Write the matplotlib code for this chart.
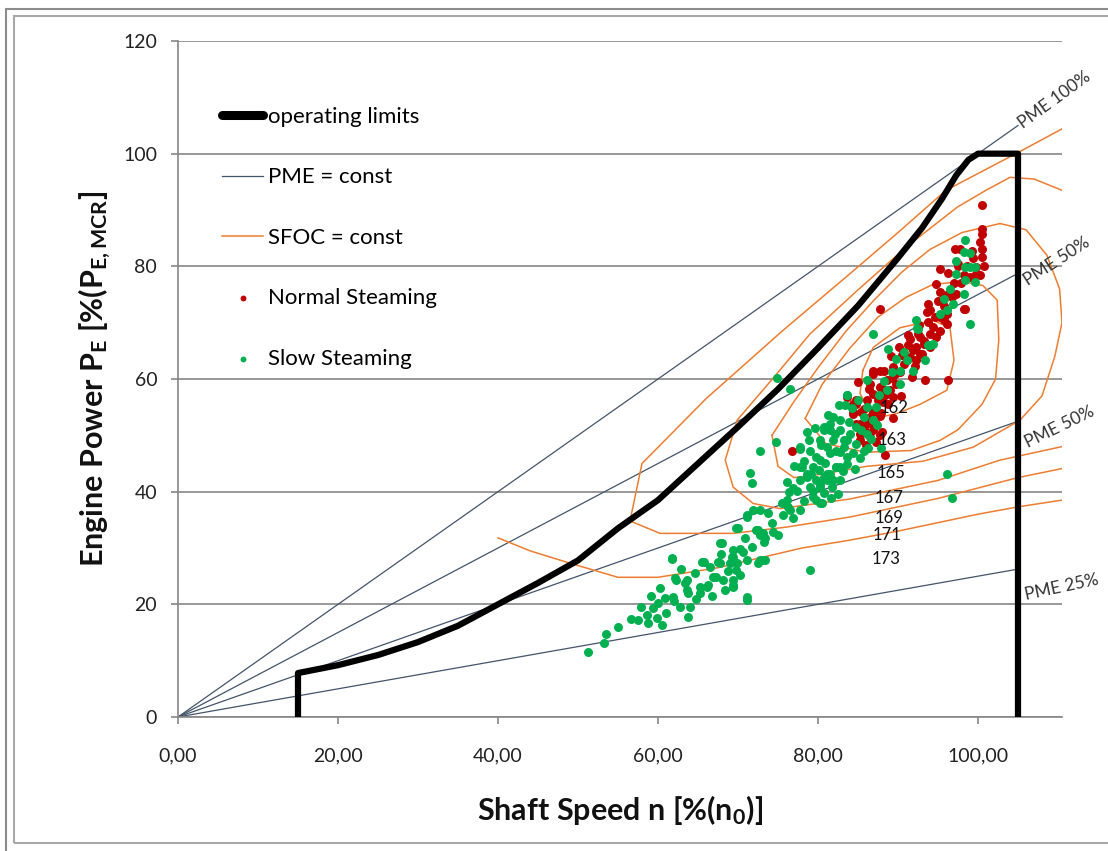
import matplotlib.pyplot as plt
from matplotlib.patches import Rectangle
from matplotlib.ticker import FuncFormatter

plt.rcParams['font.family'] = ['Lato', 'DejaVu Sans']
plt.rcParams['mathtext.fontset'] = 'custom'
plt.rcParams['mathtext.rm'] = 'Lato'
plt.rcParams['mathtext.bf'] = 'Lato:bold'
plt.rcParams['mathtext.default'] = 'bf'

# operating limits of the engine
limit_n = [15, 15, 20, 25, 30, 35, 40, 45, 50, 55, 60, 65, 70, 75, 80, 85, 90, 93, 95.5, 97.3, 98.8, 100, 105, 105]
limit_p = [0, 7.8, 9.2, 11, 13.3, 16.2, 20, 23.8, 27.8, 33.5, 38.5, 45, 51.5, 58.2, 65.5, 73, 81.5, 86.8, 92, 96.2, 98.9, 100, 100, 0]

# PME = const lines, P = k * n
pme_k = [1.0, 0.75, 0.5, 0.25]
pme_n = [0, 105]
pme_names = ['PME 100%', 'PME 50%', 'PME 50%', 'PME 25%']

# SFOC = const iso lines
sfoc_a_n = [40, 44, 49, 55, 60, 67.5, 72, 78, 84, 90, 95, 100, 105, 110.5]
sfoc_a_p = [31.8, 29.5, 27.3, 24.8, 24.8, 26.5, 28, 30, 31.4, 33, 34.5, 36, 37.3, 38.5]
sfoc_b_n = [110.5, 105, 96, 90, 84, 75.6, 66, 58, 56.5, 60.25, 69.4, 76, 84, 95, 105, 110.5]
sfoc_b_p = [104.4, 100.2, 93.5, 86, 78.7, 68.6, 56.5, 45, 34.8, 32.6, 32.6, 33.7, 35.5, 38.8, 42.5, 44.1]
sfoc_c_n = [110.5, 107, 104, 101, 97.4, 91.1, 84.9, 79, 74.9, 69.9, 68.4, 69.4, 71.9, 75.25, 84, 95, 102.75, 110.5]
sfoc_c_p = [93.5, 95.5, 95.8, 93.5, 90.5, 83.5, 75.7, 68, 61, 52.7, 45.6, 40.8, 37.9, 37, 38.7, 42, 45.6, 48]
sfoc_d_n = [74.25, 77, 80, 83.5, 87, 90.5, 94, 98, 102.75, 106, 108.6, 110.2, 110.5, 109.6, 108, 105.25, 99.4, 93.1, 86.1, 80, 77, 75, 74.25]
sfoc_d_p = [50, 56, 62, 68.5, 74, 79, 83, 86, 87.6, 86.5, 82, 76, 70, 64, 57, 52.7, 47.9, 45.4, 44.5, 43, 42.5, 44.5, 50]
sfoc_e_n = [78.4, 80.5, 84, 87.5, 91, 94.4, 98, 100.6, 102.4, 102.6, 102.2, 100.5, 97.5, 95.25, 91.6, 86, 81, 78.4]
sfoc_e_p = [53, 59, 65.5, 71, 74.5, 76.8, 77.3, 76.6, 74, 67, 60, 55.5, 51, 49.1, 47.3, 47, 48.5, 53]
sfoc_f_n = [85.6, 86.9, 90.25, 94.4, 96.5, 97, 96.1, 92.75, 89.9, 87.75, 86.2, 85.25, 85.6]
sfoc_f_p = [61.5, 65.6, 69.1, 70.4, 69.1, 63.3, 58, 55.5, 53.9, 53.2, 55, 57.4, 61.5]
sfoc_values = ['162', '163', '165', '167', '169', '171', '173']
sfoc_label_n = [89.5, 89.25, 89.1, 88.9, 88.9, 88.6, 88.5]
sfoc_label_p = [54.8, 49.1, 43.3, 38.8, 35.3, 32.3, 28.0]

# measured operating points
normal_n = [95.25, 97.5, 99.8, 100.25, 98.2, 99, 95.25, 96.3, 95, 87.75, 98.4, 94, 96.1, 94.6,
            95.7, 96.1, 94.4, 95.25, 94, 94.8, 93.2, 94, 91.9, 92.75, 91.5, 92.3, 90.7, 89.4,
            90.25, 86.9, 87.7, 93.4, 96.3, 88.6, 89.8, 87.75, 89, 86.9, 88.4, 89.4, 86.1, 87.5,
            84.8, 88.8, 85.7, 86.9, 84.4, 87.7, 86.1, 84.8, 87.3, 85.7, 86.9, 85.25, 87.75, 86.5,
            87.3, 76.7, 88.4, 84.8, 86.5, 100.5, 100.5, 100.5, 100.25, 100.5, 100.5, 100.7, 97.1,
            97.75, 99.2, 97.5, 98.6, 99.8, 98.2, 97.3, 93.6, 95.25, 92.75, 91.5, 85, 86.9, 84.4,
            84.4, 86.5, 85.25, 85.25, 88.2, 89.6, 91.1, 92.3, 93.2, 83.6, 90.5, 91.2, 92.5, 93.8,
            89.2, 88.1, 87.0, 86.0, 85.6, 86.4, 97.9, 99.4,
            88.3, 89.1, 90.1, 91.3, 92.6, 93.7, 94.7, 96.2, 97.0, 87.9, 86.3, 85.4, 88.0, 89.4,
            90.4, 91.7, 92.1, 93.0, 95.8, 96.8]
normal_p = [79.6, 80.1, 79.8, 78.4, 78.4, 78.1, 75.4, 75.1, 73.9, 72.5, 72.5, 72.2, 71.6, 71,
            70.4, 69.8, 69.2, 68.6, 68, 67.4, 66.8, 65.7, 65.1, 64.5, 63.9, 63.3, 62.7, 62.1,
            61.2, 61.5, 61.5, 59.8, 59.8, 59.8, 59.2, 58.6, 58, 57.4, 57.1, 56.8, 56.2, 56.2,
            55.6, 55.6, 54.7, 54.1, 53.8, 53.5, 53, 52.1, 52.1, 51.2, 50.9, 50.3, 50, 49.7,
            48.8, 47.3, 46.5, 56.2, 59.2, 90.8, 86.6, 85.8, 84.3, 83.1, 81.6, 80.1, 83.1,
            83.1, 82.8, 80.4, 80.1, 78.7, 72.5, 75.1, 71.9, 71, 67.4, 67.1, 59.5, 60.9, 55.6,
            54.1, 53.2, 52.1, 49.1, 58, 60.9, 63.3, 65.7, 66.3, 56.8, 64.2, 66.0, 67.9, 70.1,
            60.2, 56.0, 51.8, 48.2, 51.5, 58.2, 77.0, 81.5,
            61.4, 64.0, 65.6, 67.8, 69.6, 73.4, 76.8, 78.8, 77.0, 53.9, 52.2, 54.2, 50.6, 53.1,
            57.0, 60.4, 62.3, 64.4, 72.9, 74.5]

slow_n = [51.2, 53.2, 53.5, 55.0, 57.5, 58.6, 58.75, 59.4, 59.9, 60, 60.5, 60.9, 61, 61.75, 62,
          62.1, 62.75, 63.4, 63.75, 64, 63.75, 65.25, 65.5, 66.25, 66.9, 67.5, 67.75, 68.1, 68.75,
          69.25, 69.4, 69.9, 70.6, 71.1, 69.4, 71.1, 70, 71.1, 71.9, 72.5, 73.1, 73.4, 74.4, 75,
          72.5, 73.1, 71.5, 71.75, 72.75, 74.8, 76.5, 74.9, 76.1, 76.9, 75.5, 76.25, 76.9, 77.75,
          78, 71.1, 72.75, 76.1, 76.5, 77.75, 69.8, 72.3, 72.75, 73.2, 68, 70.25, 69.4, 69,
          69.8, 67.75, 65.7, 67.3, 65.25, 63.6, 62.3, 61.7, 63.6, 61.9, 66.1, 69.4, 69.4, 72.75,
          73.4, 79, 71.1,
          78.6, 77.75, 79, 77.75, 78.6, 79.4, 79.8, 80.25, 79.4, 80.5, 80.25, 80.7, 81.5, 81.9,
          81.5, 82.3, 81.5, 81.1, 82.75, 81.9, 82.75, 83.6, 83.4, 81.5, 79.8, 83.6, 83.6, 78.6,
          77.75, 79, 82.75, 80.7, 82.3, 80.25, 81.1, 82.75,
          86.9, 92.3, 92.5, 94, 93.4, 91.1, 89.8, 90.25, 91.9, 90.25, 88.8, 86.1, 83.6, 85, 86.1,
          87.3, 88.6, 85.7, 86.9, 84.8, 86.1, 84, 83.2, 84.8, 85.7, 84.4, 82.75, 83.6, 82.3, 81.1,
          81.9, 80.25, 79.4, 80.7, 79.8, 80.25, 96.1, 96.7, 99, 96.5, 98.2, 97.3, 98.4, 99.6, 99,
          96.9, 96.1, 94.4, 98.2, 98.4, 99, 97.3, 98.4, 99.6, 92.4, 93.75, 87.6, 88.2, 89.3, 90.8,
          95.2, 95.8,
          78.2, 78.9, 79.6, 80.4, 80.9, 81.3, 81.8, 82.1, 82.6, 83.1, 83.9, 84.3, 84.6, 85.2,
          85.4, 86.3, 86.6, 87.4, 87.9, 79.1, 80.1, 80.8, 81.6, 82.5, 83.3, 77.4, 78.3, 77.0,
          76.4, 75.6, 74.2, 73.8, 70.9, 71.8, 70.2, 68.4, 66.8, 64.7, 62.9, 60.3, 59.1, 57.9,
          56.6, 66.5, 67.9, 64.6]
slow_p = [11.5, 13.1, 14.8, 16.0, 17.2, 18.1, 16.7, 19.3, 17.5, 20.2, 16.3, 21.1, 18.4, 28.2, 20.6,
          24.6, 19.5, 23.8, 22, 19.5, 17.7, 22, 27.5, 23.4, 24.8, 27.5, 30.9, 24.3, 26,
          28.4, 29.6, 27.3, 29.3, 27.8, 23.4, 20.7, 33.5, 35.8, 36.7, 33.2, 32.6, 31.7, 32.8, 32.3,
          27.3, 27.8, 43.3, 41.5, 47.3, 48.8, 58.3, 60.1, 41.7, 40.6, 37.9, 37.2, 35.3, 47.9,
          44.3, 35.5, 36.7, 38.5, 36.7, 36.7, 33.5, 33.2, 32.3, 31.1, 30.8, 29.9, 28.4, 27.3,
          26.1, 27.3, 27.5, 24.9, 23.1, 24.3, 24.3, 28.1, 22.5, 21.3, 23.1, 24.3, 23.1, 27.8,
          27.8, 26.1, 21.3,
          50.6, 47.6, 47.3, 44.4, 43.2, 44.4, 42, 40.8, 39.1, 37.9, 49.1, 51.5, 52.1, 49.1,
          46.8, 44.4, 43.2, 42, 42, 53.2, 52.7, 57.1, 55.3, 50.9, 46.2, 49.1, 46.2, 42.6,
          42, 40.8, 44.4, 42.6, 47.3, 45.6, 47.9, 50.9,
          68, 70.4, 68.9, 66, 63.3, 63.3, 63.6, 61.5, 61.5, 59.2, 65.4, 59.8, 57.1, 56.2, 55,
          55, 58, 53.2, 52.7, 51.5, 50.3, 50.3, 49.1, 48.5, 47.3, 46.8, 47, 45, 44.4, 43.2,
          42, 41.4, 40.2, 39.7, 38.5, 37.9, 43.2, 38.8, 69.8, 76, 75.1, 78.7, 77.5, 77.2, 79.8,
          73.4, 72.2, 66.3, 82.5, 84.6, 82.3, 81, 79.8, 79.8, 69.1, 66, 57.2, 59.6, 61.2, 64.8,
          71.6, 74.2,
          45.5, 49.2, 51.3, 48.3, 45.1, 53.6, 40.9, 50.2, 55.4, 43.6, 52.4, 54.8, 44.1, 46.0,
          51.0, 47.7, 49.4, 51.8, 47.8, 43.1, 43.8, 50.9, 38.9, 39.6, 48.0, 40.2, 38.4, 44.6,
          39.9, 35.9, 34.4, 36.2, 31.8, 30.1, 25.2, 22.6, 21.4, 20.9, 26.3, 22.9, 21.4, 19.6,
          17.4, 26.6, 29.0, 25.6]

pme_col = '#44546A'
sfoc_col = '#ED7D31'
grid_col = '#868686'

fig = plt.figure(figsize=(11.08, 8.51), dpi=100)
ax = fig.add_axes([178 / 1108, 134 / 851, 884 / 1108, 676 / 851])

# chart frame
fig.patches.append(Rectangle((6 / 1108, -0.1), 1.2, 1 - 9 / 851 + 0.1, transform=fig.transFigure,
                             fill=False, ec='#8c8c8c', lw=1.5))
fig.patches.append(Rectangle((14 / 1108, 8 / 851), 1.2, 1 - 24 / 851, transform=fig.transFigure,
                             fill=False, ec='#a8a8a8', lw=1.5))

ax.set_xlim(0, 110.5)
ax.set_ylim(0, 120)
ax.set_xticks([0, 20, 40, 60, 80, 100])
ax.set_yticks([0, 20, 40, 60, 80, 100, 120])
ax.xaxis.set_major_formatter(FuncFormatter(lambda v, _: f'{v:.2f}'.replace('.', ',')))
ax.grid(axis='y', color=grid_col, lw=1.2)
ax.set_axisbelow(True)
for s in ['top', 'right']:
    ax.spines[s].set_visible(False)
for s in ['left', 'bottom']:
    ax.spines[s].set_color(grid_col)
    ax.spines[s].set_linewidth(1.2)
ax.tick_params(axis='both', colors=grid_col, length=5, width=1.2, labelcolor='#222222', labelsize=14)
ax.tick_params(axis='x', pad=17)
ax.tick_params(axis='y', pad=10)

for i, k in enumerate(pme_k):
    ax.plot(pme_n, [k * n for n in pme_n], color=pme_col, lw=0.9,
            label='PME = const' if i == 0 else None, zorder=2)

sfoc_lines = [(sfoc_a_n, sfoc_a_p), (sfoc_b_n, sfoc_b_p), (sfoc_c_n, sfoc_c_p),
              (sfoc_d_n, sfoc_d_p), (sfoc_e_n, sfoc_e_p), (sfoc_f_n, sfoc_f_p)]
for i, (xs, ys) in enumerate(sfoc_lines):
    ax.plot(xs, ys, color=sfoc_col, lw=1.1, label='SFOC = const' if i == 0 else None, zorder=2)

ax.scatter(normal_n, normal_p, s=42, color='#C00000', lw=0, label='Normal Steaming', zorder=3)
ax.scatter(slow_n, slow_p, s=42, color='#00B050', lw=0, label='Slow Steaming', zorder=3)

ax.plot(limit_n, limit_p, color='black', lw=4.5, solid_joinstyle='round', label='operating limits', zorder=4)

for s, n, p in zip(sfoc_values, sfoc_label_n, sfoc_label_p):
    ax.text(n, p, s, ha='center', va='center', fontsize=12, color='#111111', zorder=5)

pme_text_pos = [(105.8, 104.0, 36), (106.4, 76.0, 33), (106.4, 47.3, 26), (106.1, 20.3, 12)]
for name, (n, p, r) in zip(pme_names, pme_text_pos):
    ax.text(n, p, name, rotation=r, rotation_mode='anchor', ha='left', va='bottom',
            fontsize=12.5, color='#333333', clip_on=False)

ax.set_xlabel('Shaft Speed n [%(n$_0$)]', fontsize=22, fontweight='bold', color='#111111')
ax.xaxis.label.set_va('center')
ax.xaxis.set_label_coords(0.5, -0.1376)
ax.set_ylabel('Engine Power P$_E$ [%(P$_{E,MCR}$]', fontsize=22, fontweight='bold', color='#111111')
ax.yaxis.label.set_va('center')
ax.yaxis.set_label_coords(-0.094, 0.5)

h, l = ax.get_legend_handles_labels()
order = [l.index(x) for x in ['operating limits', 'PME = const', 'SFOC = const', 'Normal Steaming', 'Slow Steaming']]
leg = ax.legend([h[i] for i in order], [l[i] for i in order], loc='upper left',
                bbox_to_anchor=(0.05, 0.9026), frameon=False, fontsize=16, handlelength=1.85,
                handletextpad=0.2, labelspacing=1.82, borderpad=0, borderaxespad=0,
                scatterpoints=1, markerscale=0.65)
leg.legend_handles[0].set_linewidth(6.5)
leg.legend_handles[0].set_solid_capstyle('round')

fig.savefig('out.png', dpi=100)
